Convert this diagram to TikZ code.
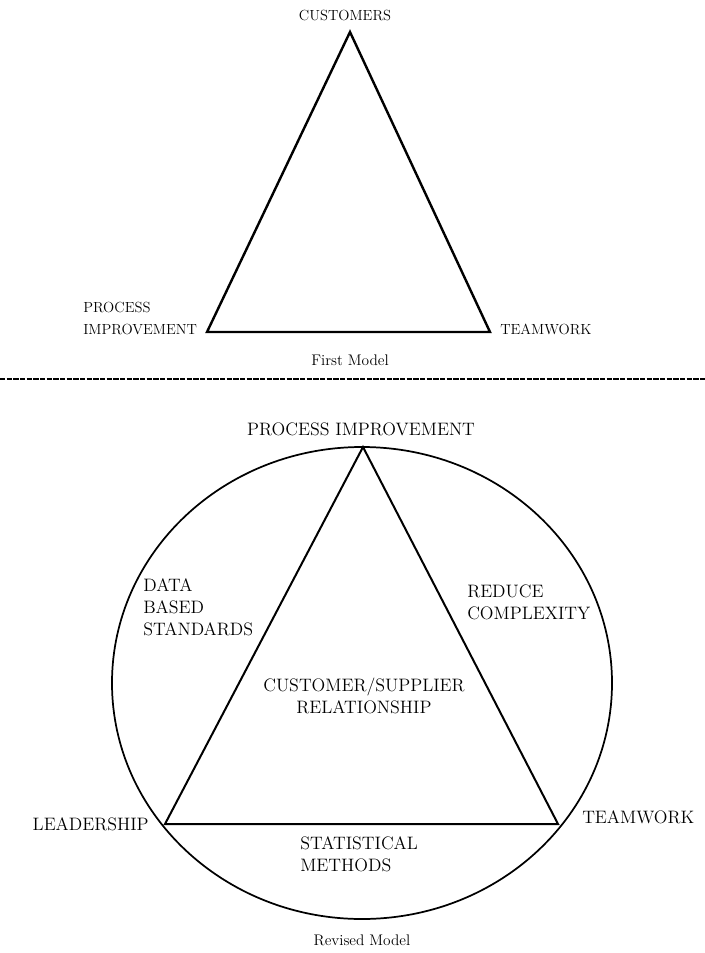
\documentclass[tikz,border=0pt]{standalone}
\usepackage{tikz}

\begin{document}
\begin{tikzpicture}[x=0.75pt,y=-0.75pt,
  edge/.style={line width=1.5pt,line join=miter},
  ring/.style={line width=1.3pt},
  toplabel/.style={inner sep=0pt,font=\fontsize{11}{16.5}\selectfont},
  botlabel/.style={inner sep=0pt,font=\fontsize{13.5}{16.5}\selectfont},
  caption/.style={inner sep=0pt,font=\fontsize{11.5}{14}\selectfont}]
\useasboundingbox (0,0) rectangle (705,953);
% FIRST MODEL
\coordinate (cust) at (350,32);
\coordinate (proc) at (207,332);
\coordinate (team) at (490,332);
\draw[edge,line width=1.8pt] (cust) -- (team) -- (proc) -- cycle;

\node[toplabel] (custlab) at (345,15) {CUSTOMERS};
\node[toplabel,align=left,anchor=west] (proclab) at (83,318) {PROCESS\\IMPROVEMENT};
\node[toplabel,anchor=west] (teamlab) at (500,329) {TEAMWORK};
\node[caption] (first) at (350,360) {First Model};
% SEPARATOR
\coordinate (sepl) at (0,379);
\coordinate (sepr) at (705,379);
\draw[line width=0.8pt,dash pattern=on 4pt off 1pt] (sepl) -- (sepr);
% REVISED MODEL
\coordinate (mid) at (362,683);
\coordinate (improve) at (363,447);
\coordinate (lead) at (165,824);
\coordinate (teamb) at (558,824);
\draw[ring] (mid) ellipse [x radius=250,y radius=236];
\draw[edge] (improve) -- (teamb) -- (lead) -- cycle;

\node[botlabel] (improvelab) at (361,429) {PROCESS IMPROVEMENT};
\node[botlabel,anchor=east] (leadlab) at (149,824) {LEADERSHIP};
\node[botlabel,anchor=west] (teamblab) at (582,817) {TEAMWORK};
\node[botlabel,align=left,anchor=west] (data) at (143,607) {DATA\\BASED\\STANDARDS};
\node[botlabel,align=left,anchor=west] (reduce) at (467,602) {REDUCE\\COMPLEXITY};
\node[botlabel,align=center] (relation) at (364,696) {CUSTOMER/SUPPLIER\\RELATIONSHIP};
\node[botlabel,align=left,anchor=west] (stats) at (300,854) {STATISTICAL\\METHODS};
\node[caption] (revised) at (362,940) {Revised Model};
\end{tikzpicture}
\end{document}
